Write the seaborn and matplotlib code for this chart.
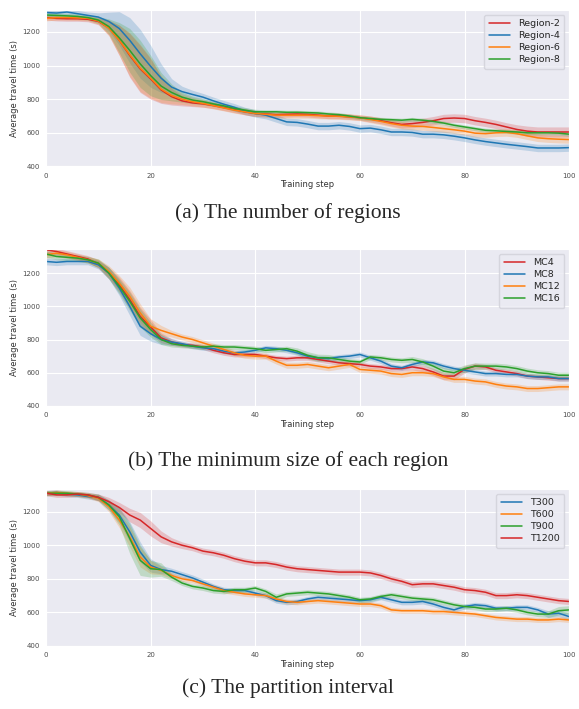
import numpy as np
import pandas as pd
import seaborn as sns
import matplotlib
matplotlib.use("Agg")
import matplotlib.pyplot as plt

# ---------------- data ----------------
steps = list(range(0, 101, 2))

# (a) number of regions
region2 = [1285, 1280, 1278, 1278, 1275, 1262, 1225, 1150, 1060, 980, 920, 855, 815, 790, 778, 772, 762, 750, 738, 725, 715,
           712, 708, 710, 712, 710, 705, 700, 700, 695, 690, 682, 672, 660, 650, 655, 662, 672, 685, 688, 685,
           672, 662, 650, 635, 620, 610, 605, 605, 605, 605]
region4 = [1315, 1312, 1318, 1308, 1298, 1288, 1262, 1220, 1150, 1070, 995, 925, 872, 845, 828, 812, 790, 770, 752, 730, 715,
           705, 685, 665, 662, 652, 640, 640, 645, 638, 625, 628, 618, 605, 605, 602, 592, 592, 588, 580, 570,
           558, 548, 540, 532, 525, 518, 510, 510, 510, 512]
region6 = [1280, 1285, 1285, 1283, 1280, 1265, 1222, 1150, 1065, 985, 925, 860, 822, 800, 785, 775, 762, 748, 735, 725, 715,
           710, 705, 705, 705, 705, 702, 700, 698, 695, 690, 680, 668, 655, 645, 640, 638, 632, 625, 618, 610,
           598, 595, 600, 602, 595, 582, 570, 565, 562, 560]
region8 = [1300, 1298, 1295, 1292, 1285, 1270, 1232, 1165, 1090, 1010, 940, 878, 840, 812, 795, 785, 772, 760, 745, 735, 725,
           725, 725, 722, 722, 720, 718, 712, 708, 700, 690, 685, 680, 678, 675, 680, 675, 668, 658, 645, 635,
           625, 615, 612, 608, 605, 600, 600, 600, 598, 592]
band_a_red = [15, 15, 15, 15, 15, 20, 45, 90, 130, 140, 120, 80, 50, 30, 22, 20, 18, 18, 18, 18, 18,
              16, 16, 16, 16, 16, 16, 16, 16, 16, 16, 18, 18, 20, 22, 25, 25, 25, 25, 25, 25,
              25, 25, 25, 25, 28, 30, 30, 30, 30, 30]
band_a_blue = [20, 20, 20, 20, 20, 25, 55, 100, 135, 145, 125, 85, 50, 32, 25, 22, 22, 22, 22, 22, 22,
               22, 22, 22, 22, 22, 22, 22, 22, 22, 22, 22, 22, 22, 22, 22, 22, 22, 22, 22, 22,
               22, 22, 22, 22, 22, 22, 22, 22, 22, 22]
band_a_orange = [15, 15, 15, 15, 15, 20, 45, 90, 130, 140, 120, 80, 50, 32, 25, 22, 20, 18, 18, 18, 18,
                 18, 18, 18, 18, 18, 18, 18, 18, 18, 18, 20, 20, 20, 22, 22, 22, 22, 22, 22, 22,
                 22, 22, 22, 22, 22, 22, 22, 22, 22, 22]
band_a_green = [15, 15, 15, 15, 15, 20, 45, 90, 130, 140, 120, 80, 50, 30, 22, 18, 15, 15, 15, 15, 15,
                12, 12, 12, 12, 12, 12, 12, 12, 12, 12, 12, 12, 12, 12, 12, 12, 12, 12, 12, 12,
                12, 12, 12, 12, 12, 12, 12, 12, 12, 12]

# (b) minimum size of each region
mc4 = [1340, 1330, 1315, 1300, 1285, 1255, 1200, 1130, 1040, 940, 875, 810, 785, 770, 765, 755, 735, 720, 710, 710, 710,
       700, 690, 685, 690, 690, 680, 670, 660, 655, 650, 640, 635, 625, 625, 635, 625, 605, 580, 580, 620,
       640, 635, 615, 605, 595, 580, 575, 570, 565, 565]
mc8 = [1270, 1265, 1270, 1270, 1270, 1250, 1200, 1110, 1000, 880, 835, 800, 785, 775, 760, 750, 745, 730, 720, 725, 735,
       750, 745, 735, 720, 700, 690, 685, 695, 700, 710, 690, 670, 640, 630, 650, 665, 660, 640, 625, 615,
       605, 595, 595, 590, 590, 580, 575, 575, 565, 565]
mc12 = [1310, 1320, 1310, 1295, 1280, 1260, 1210, 1140, 1060, 960, 880, 855, 835, 815, 800, 780, 760, 740, 720, 705, 700,
        700, 670, 645, 645, 650, 640, 630, 640, 650, 620, 615, 610, 595, 590, 600, 600, 595, 575, 560, 560,
        550, 545, 530, 520, 515, 505, 505, 510, 515, 515]
mc16 = [1315, 1300, 1295, 1290, 1280, 1260, 1200, 1120, 1030, 930, 860, 800, 775, 765, 760, 755, 760, 755, 755, 750, 745,
        735, 740, 745, 730, 705, 690, 690, 680, 670, 665, 695, 690, 680, 675, 680, 665, 640, 610, 600, 625,
        640, 640, 640, 635, 625, 610, 600, 595, 585, 585]
band_b_red = [20, 20, 20, 20, 20, 25, 35, 45, 55, 55, 45, 30, 20, 15, 15, 15, 15, 15, 15, 15, 15,
              15, 15, 15, 15, 15, 15, 15, 15, 15, 15, 15, 15, 15, 15, 18, 20, 22, 22, 22, 22,
              18, 15, 15, 15, 15, 15, 15, 15, 15, 15]
band_b_blue = [20, 20, 20, 20, 20, 25, 35, 45, 55, 55, 45, 30, 20, 15, 15, 15, 15, 15, 15, 15, 15,
               15, 15, 15, 15, 15, 15, 15, 15, 15, 15, 15, 15, 15, 15, 15, 15, 15, 15, 15, 15,
               15, 15, 15, 15, 15, 15, 15, 15, 15, 15]
band_b_orange = [20, 20, 20, 20, 20, 25, 35, 45, 55, 55, 45, 30, 20, 18, 18, 18, 18, 18, 18, 18, 18,
                 18, 18, 18, 18, 18, 18, 18, 18, 18, 18, 18, 18, 18, 18, 18, 18, 18, 18, 18, 18,
                 18, 18, 18, 18, 18, 18, 18, 18, 18, 18]
band_b_green = [20, 20, 20, 20, 20, 25, 35, 45, 55, 55, 45, 30, 20, 15, 15, 15, 15, 15, 15, 15, 15,
                15, 15, 15, 20, 22, 22, 20, 18, 15, 15, 15, 15, 15, 15, 18, 20, 22, 22, 22, 22,
                20, 18, 18, 18, 18, 18, 18, 18, 18, 18]

# (c) partition interval
t300 = [1310, 1315, 1305, 1300, 1290, 1285, 1240, 1180, 1080, 960, 880, 855, 845, 825, 805, 780, 755, 735, 730, 730, 715,
        700, 670, 660, 665, 680, 690, 685, 680, 675, 670, 675, 690, 675, 660, 660, 665, 650, 630, 615, 635,
        645, 640, 625, 625, 630, 630, 615, 590, 595, 575]
t600 = [1310, 1315, 1310, 1305, 1295, 1280, 1230, 1150, 1050, 930, 870, 850, 820, 800, 790, 770, 750, 730, 720, 710, 705,
        700, 680, 665, 660, 665, 670, 665, 660, 655, 650, 650, 640, 615, 610, 610, 610, 605, 605, 600, 595,
        590, 580, 570, 565, 560, 560, 555, 555, 560, 555]
t900 = [1310, 1310, 1310, 1305, 1300, 1285, 1240, 1170, 1040, 910, 860, 855, 810, 775, 755, 745, 730, 725, 735, 735, 745,
        725, 690, 710, 715, 720, 715, 710, 700, 690, 675, 680, 695, 705, 695, 685, 680, 675, 660, 645, 635,
        630, 620, 620, 625, 615, 600, 590, 590, 610, 615]
t1200 = [1310, 1300, 1300, 1305, 1300, 1285, 1260, 1225, 1180, 1150, 1100, 1050, 1020, 1000, 985, 965, 955, 940, 920, 905, 895,
         895, 885, 870, 860, 855, 850, 845, 840, 840, 840, 835, 820, 800, 785, 765, 770, 770, 760, 750, 735,
         730, 720, 700, 700, 705, 700, 690, 680, 670, 665]
band_c_blue = [15, 15, 15, 15, 15, 20, 30, 45, 60, 60, 40, 25, 18, 18, 18, 18, 15, 15, 15, 15, 15,
               15, 15, 15, 15, 15, 15, 15, 15, 15, 15, 15, 15, 15, 15, 15, 15, 15, 15, 15, 15,
               15, 15, 15, 15, 15, 15, 15, 20, 20, 20]
band_c_orange = [15, 15, 15, 15, 15, 20, 30, 45, 60, 60, 40, 25, 18, 15, 15, 15, 15, 15, 15, 15, 15,
                 15, 15, 15, 15, 15, 15, 15, 15, 15, 15, 15, 15, 15, 15, 15, 15, 15, 15, 15, 15,
                 15, 15, 15, 15, 15, 15, 15, 15, 15, 15]
band_c_green = [15, 15, 15, 15, 15, 20, 30, 50, 90, 90, 50, 40, 20, 15, 15, 15, 15, 15, 15, 15, 15,
                15, 20, 15, 15, 15, 15, 15, 15, 15, 15, 15, 15, 15, 15, 15, 15, 15, 15, 15, 15,
                15, 15, 15, 15, 15, 15, 15, 20, 25, 25]
band_c_red = [15, 15, 15, 15, 15, 20, 25, 30, 40, 45, 45, 35, 25, 20, 18, 18, 18, 18, 18, 18, 18,
              18, 18, 18, 18, 18, 18, 18, 18, 18, 18, 18, 18, 18, 18, 18, 18, 18, 18, 18, 18,
              18, 18, 18, 18, 18, 18, 18, 18, 18, 18]

RED, BLUE, ORANGE, GREEN = "#d62728", "#1f77b4", "#ff7f0e", "#2ca02c"

panels = [
    ("(a) The number of regions", 1330,
     [("Region-2", region2, band_a_red, RED),
      ("Region-4", region4, band_a_blue, BLUE),
      ("Region-6", region6, band_a_orange, ORANGE),
      ("Region-8", region8, band_a_green, GREEN)]),
    ("(b) The minimum size of each region", 1345,
     [("MC4", mc4, band_b_red, RED),
      ("MC8", mc8, band_b_blue, BLUE),
      ("MC12", mc12, band_b_orange, ORANGE),
      ("MC16", mc16, band_b_green, GREEN)]),
    ("(c) The partition interval", 1335,
     [("T300", t300, band_c_blue, BLUE),
      ("T600", t600, band_c_orange, ORANGE),
      ("T900", t900, band_c_green, GREEN),
      ("T1200", t1200, band_c_red, RED)]),
]

# ---------------- style ----------------
sns.set_style("darkgrid")
plt.rcParams["font.family"] = ["DejaVu Sans"]

fig = plt.figure(figsize=(5.79, 7.09), dpi=100)
axes_pos = [(0.0795, 0.7652, 0.9035, 0.2207),
            (0.0795, 0.4274, 0.9035, 0.2214),
            (0.0795, 0.0889, 0.9035, 0.2214)]
caption_y = [0.700, 0.350, 0.030]

x = np.array(steps)
for (caption, ytop, series), pos, cy in zip(panels, axes_pos, caption_y):
    ax = fig.add_axes(pos)
    for name, mean, band, col in series:
        m = np.array(mean, dtype=float)
        b = np.array(band, dtype=float)
        ax.fill_between(x, m - b, m + b, color=col, alpha=0.22, lw=0)
        sns.lineplot(x=x, y=m, ax=ax, color=col, lw=1.1, label=name)
    ax.set_xlim(0, 100)
    ax.set_ylim(400, ytop)
    ax.set_xticks(range(0, 101, 20))
    ax.set_yticks(range(400, 1201, 200))
    ax.tick_params(labelsize=5, pad=1, colors=".3")
    ax.set_xlabel("Training step", fontsize=6, labelpad=1, color=".2")
    ax.set_ylabel("Average travel time (s)", fontsize=6, labelpad=2, color=".2")
    leg = ax.legend(loc="upper right", fontsize=6.8, frameon=True, handlelength=2.3,
                    borderpad=0.5, labelspacing=0.3)
    leg.get_frame().set_edgecolor("#d0d0d8")
    fig.text(0.497, cy, caption, ha="center", va="center",
             fontsize=15.5, family="Liberation Serif")

fig.savefig("out.png", dpi=100)
